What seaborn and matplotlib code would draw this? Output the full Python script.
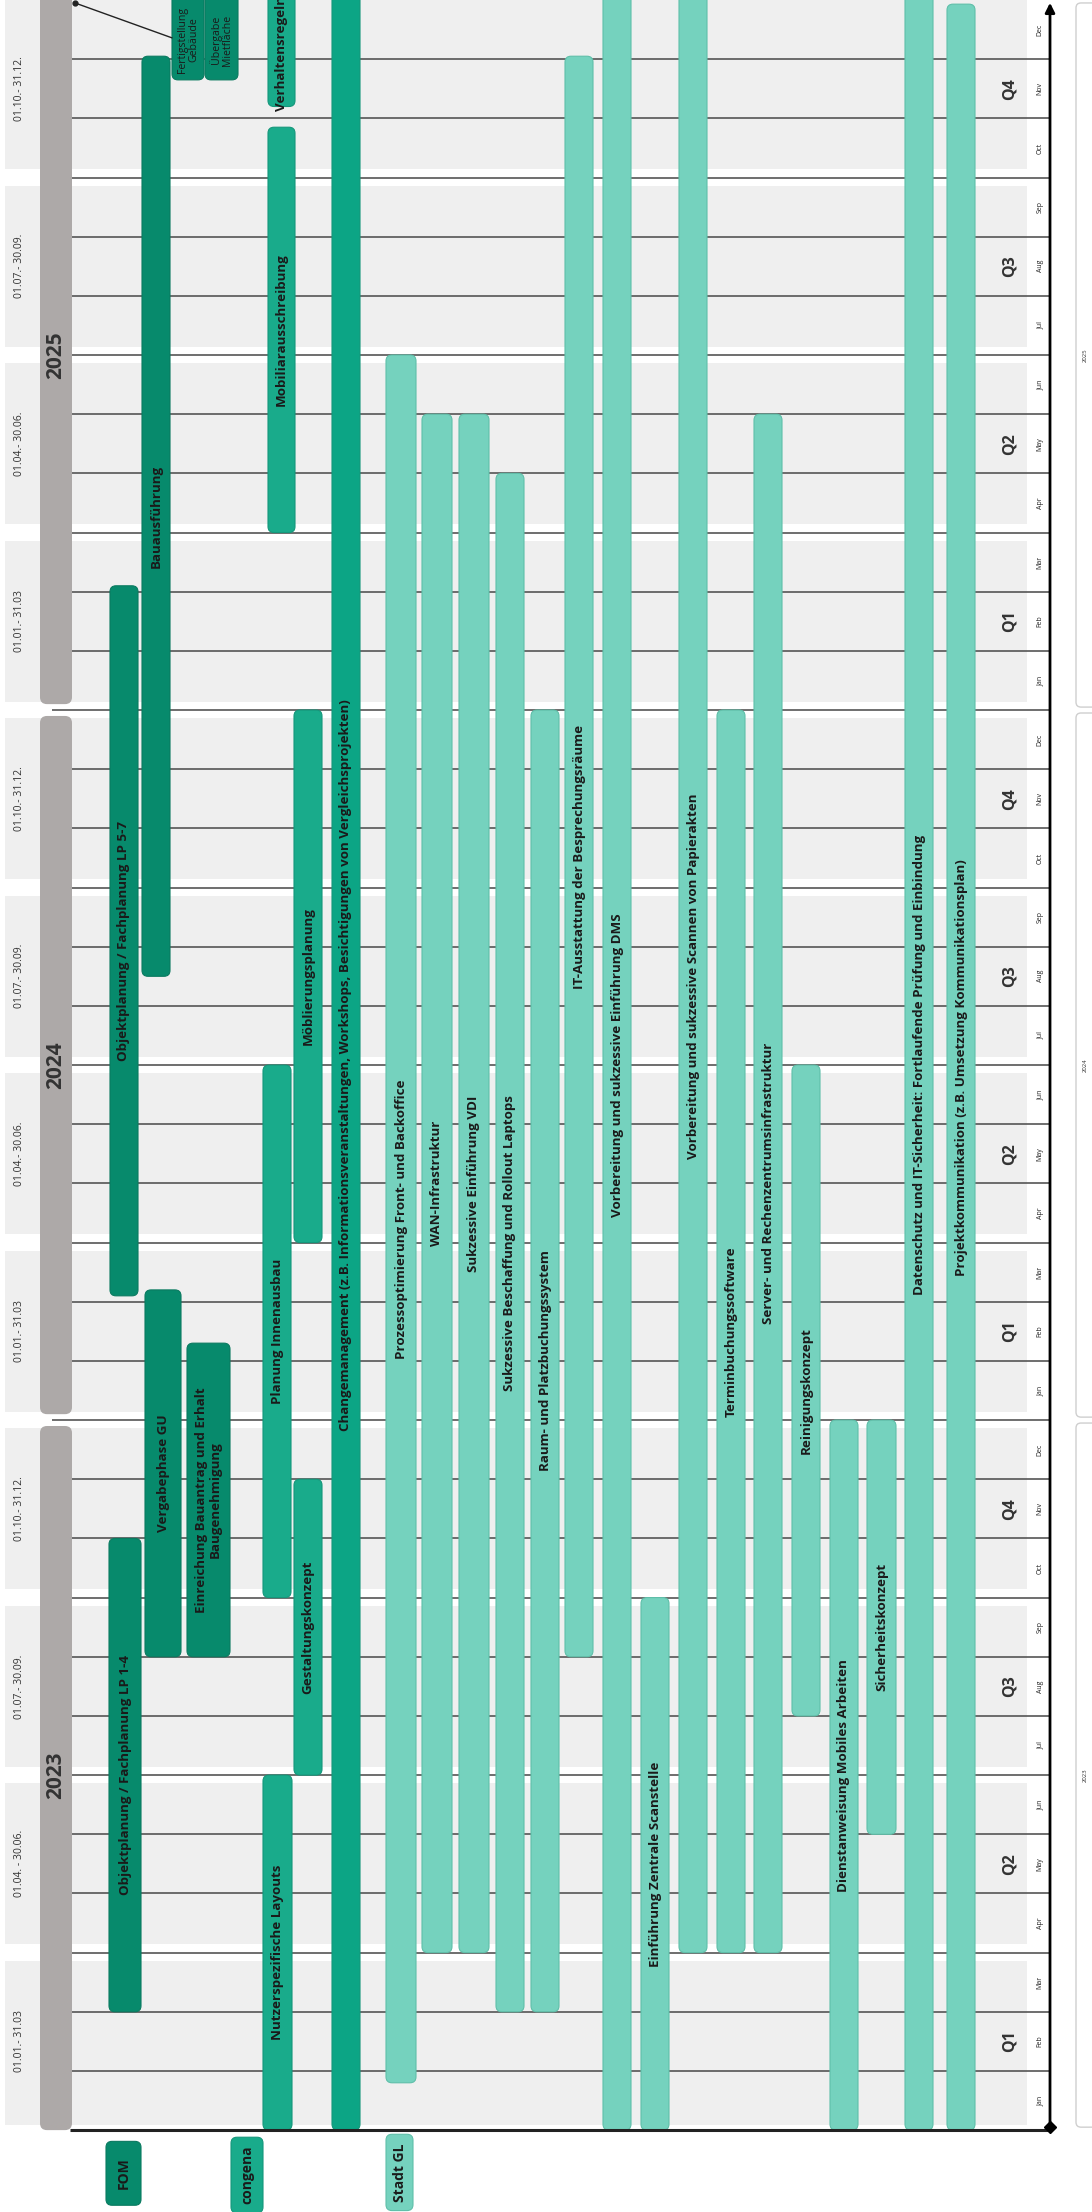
import numpy as np
import pandas as pd
import seaborn as sns
import matplotlib
matplotlib.use("Agg")
import matplotlib.pyplot as plt
from matplotlib.patches import FancyBboxPatch, Rectangle

# ---- data (months counted from 01.01.2023) ----
years = [2023, 2024, 2025]
quarter_labels = {
    2023: ["01.01.- 31.03", "01.04. - 30.06.", "01.07.- 30.09.", "01.10.- 31.12."],
    2024: ["01.01.- 31.03", "01.04.- 30.06.", "01.07.- 30.09.", "01.10.- 31.12."],
    2025: ["01.01.- 31.03", "01.04.- 30.06.", "01.07.- 30.09.", "01.10.- 31.12."],
}
quarters = ["Q1", "Q2", "Q3", "Q4"]
months = ["Jan", "Feb", "Mar", "Apr", "May", "Jun", "Jul", "Aug", "Sep", "Oct", "Nov", "Dec"]
owners = ["FOM", "congena", "Stadt GL"]

task_names = [
    "Objektplanung / Fachplanung LP 1-4",
    "Objektplanung / Fachplanung LP 5-7",
    "Bauausführung",
    "Vergabephase GU",
    "Einreichung Bauantrag und Erhalt\nBaugenehmigung",
    "Nutzerspezifische Layouts",
    "Planung Innenausbau",
    "Gestaltungskonzept",
    "Möblierungsplanung",
    "Mobiliarausschreibung",
    "Verhaltensregeln",
    "Changemanagement (z.B. Informationsveranstaltungen, Workshops, Besichtigungen von Vergleichsprojekten)",
    "Prozessoptimierung Front- und Backoffice",
    "WAN-Infrastruktur",
    "Sukzessive Einführung VDI",
    "Sukzessive Beschaffung und Rollout Laptops",
    "Raum- und Platzbuchungssystem",
    "IT-Ausstattung der Besprechungsräume",
    "Vorbereitung und sukzessive Einführung DMS",
    "Einführung Zentrale Scanstelle",
    "Vorbereitung und sukzessive Scannen von Papierakten",
    "Terminbuchungssoftware",
    "Server- und Rechenzentrumsinfrastruktur",
    "Reinigungskonzept",
    "Dienstanweisung Mobiles Arbeiten",
    "Sicherheitskonzept",
    "Datenschutz und IT-Sicherheit: Fortlaufende Prüfung und Einbindung",
    "Projektkommunikation (z.B. Umsetzung Kommunikationsplan)",
]
task_start = [2, 14.1, 19.5, 8, 8, 0, 9, 6, 15, 27, 34.2, 0,
              0.8, 3, 3, 2, 2, 8, 0, 0, 3, 3, 3, 7, 0, 5, 0, 0]
task_end = [10, 26.1, 35.05, 14.2, 13.3, 6, 18, 11, 24, 33.85, 36.3, 36.3,
            30, 29, 29, 28, 24, 35.05, 36.3, 9, 36.3, 24, 29, 18, 12, 12, 36.3, 35.93]
task_owner = ["FOM"] * 5 + ["congena"] * 7 + ["Stadt GL"] * 16

milestone_names = ["Fertigstellung\nGebäude", "Übergabe\nMietfläche"]
milestone_start = [34.65, 34.65]
milestone_end = [36.3, 36.3]

# ---- layout (pixel columns) ----
task_x = [109, 110, 142, 145, 187, 263, 263, 294, 294, 268, 268, 332,
          386, 422, 459, 496, 531, 565, 603, 641, 679, 717, 754, 792, 830, 867, 905, 947]
task_w = [32, 28, 28, 36, 43, 29, 28, 28, 28, 27, 27, 28,
          30, 30, 30, 28, 28, 28, 28, 28, 28, 28, 28, 28, 28, 29, 28, 28]
milestone_x = [172, 205]
milestone_w = [32, 33]
legend_x = [106, 231, 386]
legend_w = [35, 32, 27]
legend_y = [(-1.27, -0.19), (-1.4, -0.12), (-1.36, -0.07)]

owner_col = {"FOM": "#078a6c", "congena": "#19ab8b", "Stadt GL": "#75d2be"}
owner_edge = {"FOM": "#0a7a60", "congena": "#15977b", "Stadt GL": "#5fbfa9"}
special_col = {"Changemanagement (z.B. Informationsveranstaltungen, Workshops, Besichtigungen von Vergleichsprojekten)": "#0ca585"}

W, H = 1092, 2212
PPM = 59.17              # pixels per month
TOP = 36
BOTTOM = TOP - H / PPM
ASPECT = 1 / PPM

sns.set_theme(style="white")
plt.rcParams['font.family'] = ['Open Sans', 'DejaVu Sans']
TXT = "#1a1a1a"

fig = plt.figure(figsize=(W / 100, H / 100), dpi=100)
ax = fig.add_axes([0, 0, 1, 1])
ax.set_xlim(0, W)
ax.set_ylim(BOTTOM, TOP)
ax.axis("off")


def rbox(x, y0, w, y1, fc, ec, r=6, lw=0.8, z=3):
    p = FancyBboxPatch((x, y0), w, y1 - y0, boxstyle=f"round,pad=0,rounding_size={r}",
                       mutation_aspect=ASPECT, fc=fc, ec=ec, lw=lw, zorder=z)
    ax.add_patch(p)
    return p


# quarter background bands
inset = 0.14
for qi in range(12):
    lo = qi * 3 + (inset if qi > 0 else 0.08)
    hi = qi * 3 + 3 - (inset if qi < 11 else -0.5)
    ax.add_patch(Rectangle((5, lo), 1022, hi - lo, fc="#efefef", ec="none", zorder=0))

# month grid lines
for m in range(1, 36):
    x0 = 52 if m % 12 == 0 else 72
    ax.hlines(m, x0, 1050, color="#555555", lw=1.2, zorder=1)
ax.hlines(0, 70, 1050, color="#222222", lw=2.2, zorder=5)

# axis arrow on the right
ax.annotate("", xy=(1050, TOP), xytext=(1050, 0),
            arrowprops=dict(arrowstyle="-|>", lw=2, color="black", mutation_scale=14), zorder=6)
ax.plot([1050], [0.05], marker="D", ms=6, color="black", zorder=7)

# year columns, quarter labels, month labels
for yi, yr in enumerate(years):
    y0, y1 = yi * 12, yi * 12 + 12
    lo = y0 + (0.1 if yi > 0 else 0)
    hi = y1 - (0.1 if yi < 2 else -0.5)
    rbox(40, lo, 32, hi, "#ada9a8", "none", r=7, lw=0, z=2)
    ax.text(56, (y0 + y1) / 2, str(yr), rotation=90, ha="center", va="center",
            rotation_mode="anchor", fontsize=15, fontweight="bold", color="#333333", zorder=4)
    rbox(1076, y0 + 0.05, 40, y1 - 0.05, "white", "#cfcfcf", r=5, lw=1, z=2)
    ax.text(1085, (y0 + y1) / 2, str(yr), rotation=90, ha="center", va="center",
            rotation_mode="anchor", fontsize=4.3, color="#333333", zorder=4)
    for q in range(4):
        qc = y0 + q * 3 + 1.5
        ax.text(20, qc, quarter_labels[yr][q], rotation=90, ha="center", va="center",
                rotation_mode="anchor", fontsize=7.5, color="#333333", zorder=4)
        ax.text(1010, qc, quarters[q], rotation=90, ha="center", va="center",
                rotation_mode="anchor", fontsize=11.5, fontweight="bold", color="#333333", zorder=4)
    for mi, mn in enumerate(months):
        ax.text(1040, y0 + mi + 0.5, mn, rotation=90, ha="center", va="center",
                rotation_mode="anchor", fontsize=5, color="#222222", zorder=4)

# task bars
for name, s, e, o, x, w in zip(task_names, task_start, task_end, task_owner, task_x, task_w):
    fc = special_col.get(name, owner_col[o])
    rbox(x, s, w, e, fc, owner_edge[o])
    mid = (s + min(e, TOP)) / 2
    ax.text(x + w / 2, mid, name, rotation=90, ha="center", va="center", rotation_mode="anchor",
            multialignment="center", fontsize=9.6, fontweight="bold", color=TXT, zorder=4,
            linespacing=1.1)

# milestones at the top
for name, s, e, x, w in zip(milestone_names, milestone_start, milestone_end, milestone_x, milestone_w):
    rbox(x, s, w, e, owner_col["FOM"], owner_edge["FOM"])
    ax.text(x + w / 2, (s + TOP) / 2, name, rotation=90, ha="center", va="center",
            rotation_mode="anchor", multialignment="center", fontsize=7.6, color=TXT,
            zorder=4, linespacing=1.0)
ax.plot([75, 172], [35.95, 35.36], color="#222222", lw=1, zorder=6)
ax.plot([75], [35.95], marker="o", ms=3.5, color="#222222", zorder=6)

# legend boxes
for o, x, w, (lo, hi) in zip(owners, legend_x, legend_w, legend_y):
    rbox(x, lo, w, hi, owner_col[o], owner_edge[o], r=6)
    ax.text(x + w / 2, (lo + hi) / 2, o, rotation=90, ha="center", va="center",
            rotation_mode="anchor", fontsize=10, fontweight="bold", color=TXT, zorder=4)

fig.savefig("out.png", dpi=100)
